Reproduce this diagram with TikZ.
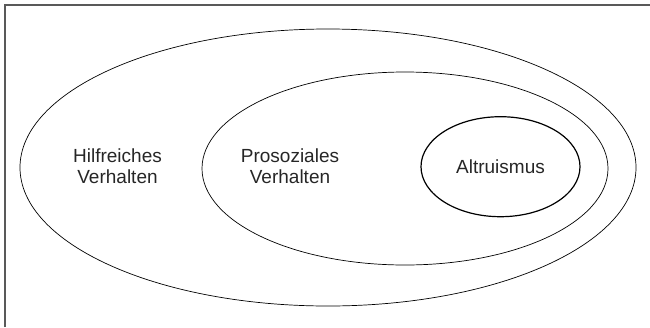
\documentclass[tikz,border=0pt]{standalone}
\usepackage{fontspec}
\setmainfont{Liberation Sans}
\usetikzlibrary{shapes.geometric}

\begin{document}
\begin{tikzpicture}[x=1pt,y=-1pt]
		\tikzstyle{menge}=[draw,shape=ellipse,inner sep=0pt,line width=0.7pt]
		\tikzstyle{label}=[align=center,font=\fontsize{19}{21.5}\selectfont,text=black!85]

		\useasboundingbox (0,0) rectangle (650,327);
		\draw[black!65,line width=2pt] (5,327) -- (5,5) -- (650,5);

		\node[menge,minimum width=616pt,minimum height=277pt](hilf) at (328,167.5){};
		\node[menge,minimum width=406pt,minimum height=193pt](pros) at (405,168.5){};
		\node[menge,line width=1.2pt,minimum width=159pt,minimum height=100pt](altr) at (500.5,166.7){};

		\node[label](thilf) at (117.5,166){Hilfreiches\\Verhalten};
		\node[label](tpros) at (290,166){Prosoziales\\Verhalten};
		\node[label](taltr) at (altr.center){Altruismus};
\end{tikzpicture}
\end{document}
